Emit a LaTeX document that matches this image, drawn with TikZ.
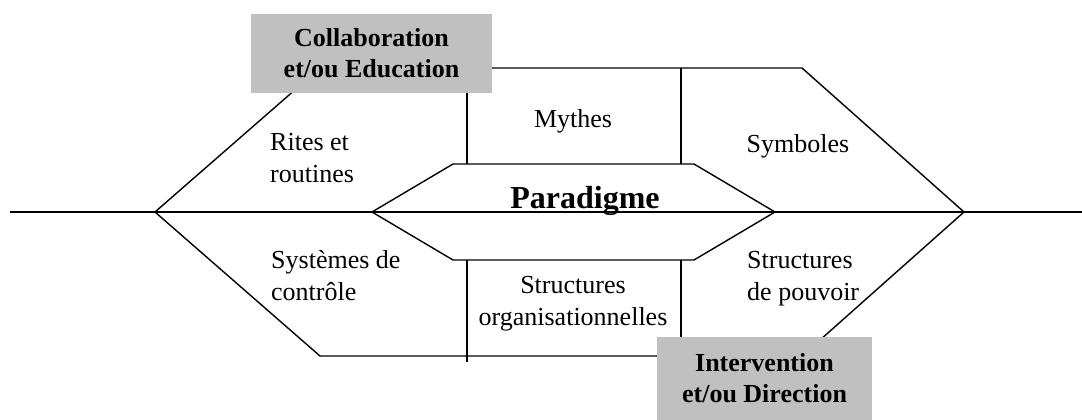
\documentclass[tikz,border=0pt]{standalone}
\usepackage{fontspec}
\setmainfont{Liberation Serif}
\usetikzlibrary{positioning}
\definecolor{levgray}{HTML}{C0C0C0}

\tikzset{
	trait/.style={line width=1.4pt},
	zone/.style={font=\fontsize{26}{32}\selectfont, inner sep=0pt},
	levier/.style={fill=levgray, font=\bfseries\fontsize{26}{31}\selectfont, align=center, inner sep=0pt},
}

\begin{document}
\begin{tikzpicture}[x=1pt,y=-1pt]
	\useasboundingbox (0,0) rectangle (1082,420);
	% axe
	\coordinate (g) at (10,212);
	\coordinate (d) at (1082,212);
	% hexagone externe
	\coordinate (e1) at (155,212);
	\coordinate (e2) at (320,68);
	\coordinate (e3) at (802,68);
	\coordinate (e4) at (964,212);
	\coordinate (e5) at (802,356);
	\coordinate (e6) at (320,356);
	% hexagone interne
	\coordinate (i1) at (372,212);
	\coordinate (i2) at (453,164);
	\coordinate (i3) at (694,164);
	\coordinate (i4) at (775,212);
	\coordinate (i5) at (694,260);
	\coordinate (i6) at (453,260);
	\draw[trait] (g)--(d);
	\draw[trait] (e1)--(e2)--(e3)--(e4)--(e5)--(e6)--cycle;
	\draw[trait] (i1)--(i2)--(i3)--(i4)--(i5)--(i6)--cycle;
	% separations
	\draw[trait] (467,68)--(467,164);
	\draw[trait] (681,68)--(681,164);
	\draw[trait] (467,260)--(467,362);
	\draw[trait] (681,260)--(681,356);
	% textes (base = derniere ligne)
	\node[zone,anchor=base west,align=left] (rites) at (270,182) {Rites et\\routines};
	\node[zone,anchor=base] (mythes) at (573,127) {Mythes};
	\node[zone,anchor=base] (symb) at (798,152) {Symboles};
	\node[anchor=base,inner sep=0pt,font=\bfseries\fontsize{32}{36}\selectfont] (para) at (585,208) {Paradigme};
	\node[zone,anchor=base west,align=left] (ctrl) at (271,300) {Systèmes de\\contrôle};
	\node[zone,anchor=base,align=center] (orga) at (573,325) {Structures\\organisationnelles};
	\node[zone,anchor=base west,align=left] (pouv) at (747,300) {Structures\\de pouvoir};
	% leviers
	\node[levier,minimum width=241pt,minimum height=79pt] (collab) at (371.5,53.5) {Collaboration\\et/ou Education};
	\node[levier,minimum width=215pt,minimum height=83pt] (interv) at (764.5,378.5) {Intervention\\et/ou Direction};
\end{tikzpicture}
\end{document}
